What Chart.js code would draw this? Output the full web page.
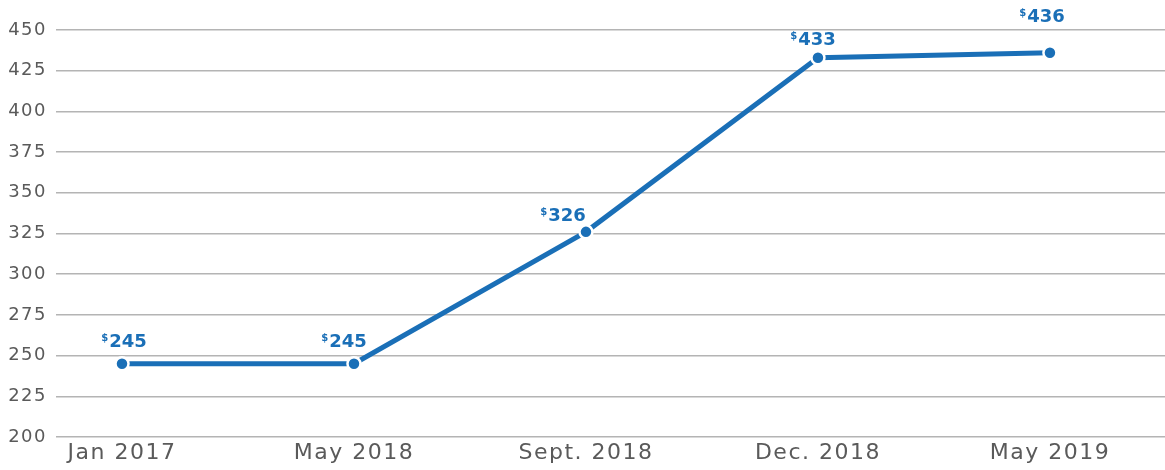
<!DOCTYPE html>
<html>
<head>
<meta charset="utf-8">
<script src="https://cdn.jsdelivr.net/npm/chart.js@4"></script>
<style>
  html, body { margin: 0; padding: 0; background: #fff; }
  #wrap { width: 1165px; height: 470px; }
</style>
</head>
<body>
<div id="wrap"><canvas id="c" width="1165" height="470"></canvas></div>
<script>
const categories = ["Jan 2017", "May 2018", "Sept. 2018", "Dec. 2018", "May 2019"];
const prices = [245, 245, 326, 433, 436];
const yTicks = [200, 225, 250, 275, 300, 325, 350, 375, 400, 425, 450];

const BLUE = "#1a6fb7";
const FONT = "'DejaVu Sans', sans-serif";
// label placement relative to each point (dx of label centre, dy of baseline)
const labelShift = [[2, -17], [-10, -17], [-23, -11], [-5, -13], [-8, -31]];

const spacingPlugin = {
  id: 'spacing',
  beforeDraw(chart) { chart.ctx.letterSpacing = '1.5px'; }
};

const labelPlugin = {
  id: 'priceLabels',
  afterDatasetsDraw(chart) {
    const ctx = chart.ctx;
    const meta = chart.getDatasetMeta(0);
    ctx.save();
    ctx.letterSpacing = '0px';
    meta.data.forEach((pt, i) => {
      const num = String(prices[i]);
      ctx.font = "bold 18px " + FONT;
      const wNum = ctx.measureText(num).width;
      ctx.font = "bold 10px " + FONT;
      const wDol = ctx.measureText("$").width;
      const total = wNum + wDol + 1;
      const cx = pt.x + labelShift[i][0];
      const base = pt.y + labelShift[i][1];
      const left = cx - total / 2;
      ctx.fillStyle = BLUE;
      ctx.textAlign = "left";
      ctx.textBaseline = "alphabetic";
      ctx.font = "bold 10px " + FONT;
      ctx.fillText("$", left, base - 6);
      ctx.font = "bold 18px " + FONT;
      ctx.fillText(num, left + wDol + 1, base);
    });
    ctx.restore();
  }
};

new Chart(document.getElementById('c'), {
  type: 'line',
  data: {
    datasets: [{
      data: prices.map((v, i) => ({ x: i, y: v })),
      borderColor: BLUE,
      backgroundColor: BLUE,
      borderWidth: 5,
      pointRadius: 6.5,
      pointBorderWidth: 2.5,
      pointBorderColor: "#ffffff",
      pointBackgroundColor: BLUE,
      tension: 0,
      clip: false
    }]
  },
  options: {
    responsive: false,
    animation: false,
    layout: { autoPadding: false, padding: { top: 30, right: 0, left: 0, bottom: 0 } },
    plugins: { legend: { display: false }, tooltip: { enabled: false } },
    scales: {
      x: {
        type: 'linear',
        min: -0.2845,
        max: 4.496,
        grid: { display: false },
        border: { display: false },
        afterFit(scale) { scale.height = 33; scale.paddingLeft = 0; scale.paddingRight = 0; },
        afterBuildTicks(scale) {
          scale.ticks = categories.map((c, i) => ({ value: i }));
        },
        ticks: {
          padding: -5,
          color: "#5a5a5a",
          font: { family: FONT, size: 22 },
          callback: (v) => categories[v] !== undefined ? categories[v] : ''
        }
      },
      y: {
        min: 200,
        max: 450,
        afterBuildTicks(scale) {
          scale.ticks = yTicks.map(v => ({ value: v }));
        },
        afterFit(scale) { scale.width = 56; },
        grid: { color: "#b4b4b4", lineWidth: 1.5, drawTicks: false },
        border: { display: false },
        ticks: {
          padding: 9,
          color: "#5a5a5a",
          font: { family: FONT, size: 18 }
        }
      }
    }
  },
  plugins: [spacingPlugin, labelPlugin]
});
</script>
</body>
</html>
